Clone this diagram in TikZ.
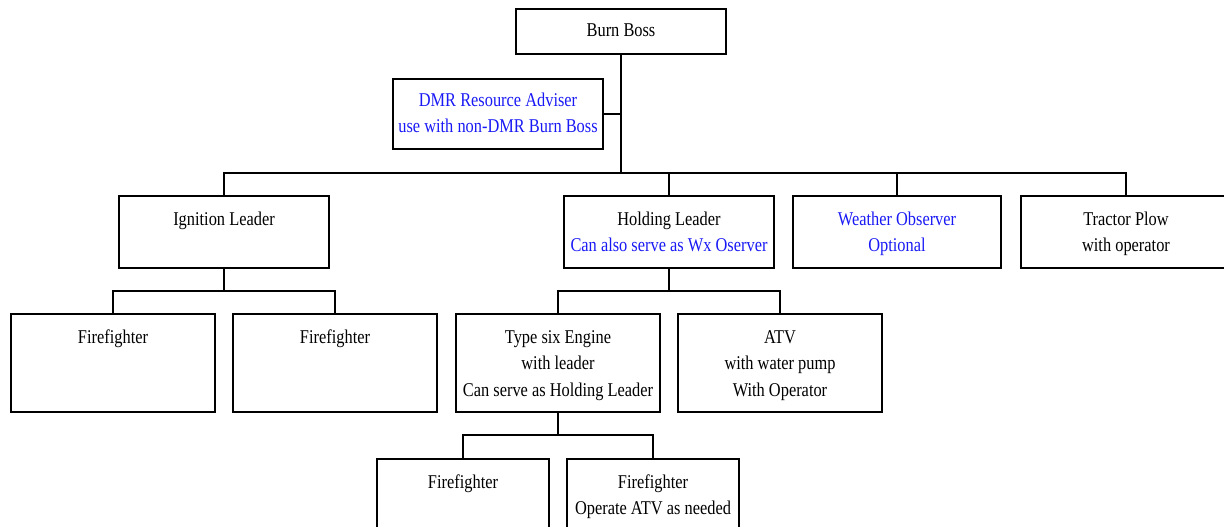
\documentclass[tikz,border=0pt]{standalone}
\usepackage{fontspec}
\setmainfont{Liberation Serif}[FakeStretch=0.84]
\definecolor{txtblue}{RGB}{25,25,245}
\newcommand\btop[3]{\parbox[c][#2pt][t]{#1pt}{\centering\fontsize{19.5}{26.5}\selectfont\vspace*{10.5pt}\strut #3\par}}
\newcommand\bmid[3]{\parbox[c][#2pt][c]{#1pt}{\centering\fontsize{19.5}{26.5}\selectfont\strut #3\strut\par}}
\tikzset{
  box/.style={draw, line width=2pt, inner sep=0pt, outer sep=0pt, anchor=north west},
  conn/.style={line width=2pt},
}
\begin{document}
\begin{tikzpicture}[x=1pt,y=-1pt]
\useasboundingbox (0,0) rectangle (1224,527);
\clip (0,0) rectangle (1224,527);
\node[box] (bb)   at (516,9)   {\bmid{210}{45}{Burn Boss}};
\node[box] (dmr)  at (393,79)  {\bmid{210}{70}{\color{txtblue}DMR Resource Adviser\\use with non-DMR Burn Boss}};
\node[box] (ign)  at (119,196) {\btop{210}{72}{Ignition Leader}};
\node[box] (hold) at (564,196) {\btop{210}{72}{Holding Leader\\{\color{txtblue}Can also serve as Wx Oserver}}};
\node[box] (wx)   at (793,196) {\btop{208}{72}{\color{txtblue}Weather Observer\\Optional}};
\node[box] (trac) at (1021,196){\btop{210}{72}{Tractor Plow\\with operator}};
\node[box] (ff1)  at (11,314)  {\btop{204}{98}{Firefighter}};
\node[box] (ff2)  at (233,314) {\btop{204}{98}{Firefighter}};
\node[box] (eng)  at (456,314) {\btop{204}{98}{Type six Engine\\with leader\\Can serve as Holding Leader}};
\node[box] (atv)  at (678,314) {\btop{204}{98}{ATV\\with water pump\\With Operator}};
\node[box] (ff3)  at (377,459) {\btop{172}{90}{Firefighter}};
\node[box] (ff4)  at (567,459) {\btop{172}{90}{Firefighter\\Operate ATV as needed}};
\coordinate (j0) at (621,173);
\draw[conn] (bb.south) -- (j0);
\draw[conn] (dmr.east) -- (dmr.east -| bb.south);
\draw[conn] (ign.north) |- (j0) -| (trac.north);
\draw[conn] (hold.north) -- (hold.north |- j0);
\draw[conn] (wx.north) -- (wx.north |- j0);
\draw[conn] (ign.south) -- ++(0,23) coordinate (j1);
\draw[conn] (ff1.north) |- (j1) -| (ff2.north);
\draw[conn] (hold.south) -- ++(0,23) coordinate (j2);
\draw[conn] (eng.north) |- (j2) -| (atv.north);
\draw[conn] (eng.south) -- ++(0,23) coordinate (j3);
\draw[conn] (ff3.north) |- (j3) -| (ff4.north);
\end{tikzpicture}
\end{document}
